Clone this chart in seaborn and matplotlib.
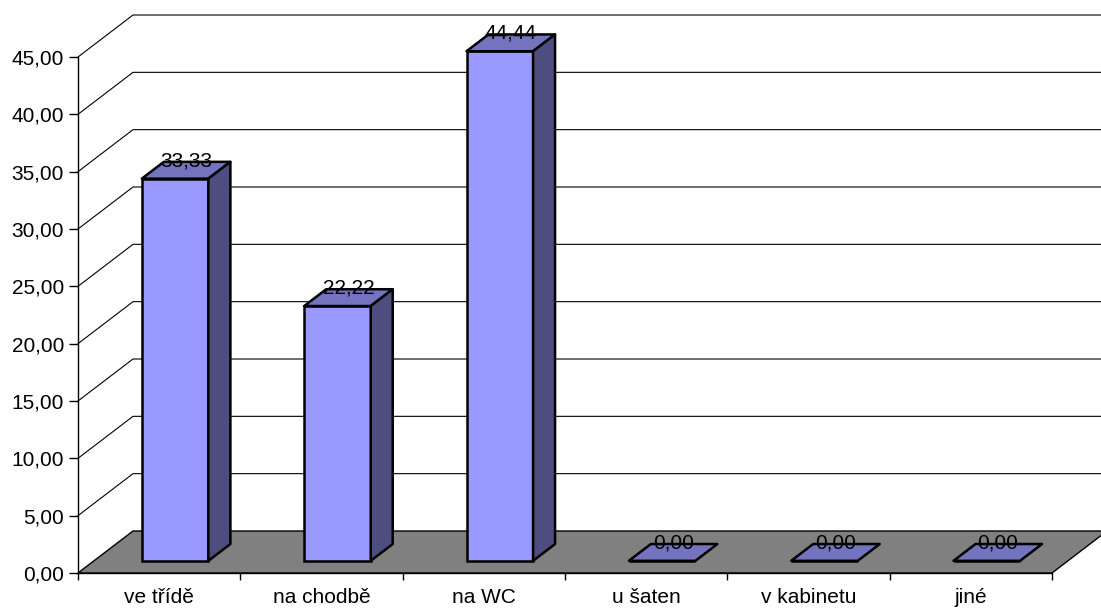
import matplotlib
matplotlib.use("Agg")
import matplotlib.pyplot as plt
import matplotlib.transforms as mtransforms
from matplotlib.patches import Polygon
import pandas as pd
import seaborn as sns

categories = ["ve třídě", "na chodbě", "na WC", "u šaten", "v kabinetu", "jiné"]
values = [33.33, 22.22, 44.44, 0.00, 0.00, 0.00]
y_ticks = [0, 5, 10, 15, 20, 25, 30, 35, 40, 45]

FRONT = "#9999ff"
TOP = "#7373bf"
SIDE = "#4d4d80"
FLOOR = "#808080"
FS = 15

sns.set_style("white")
plt.rcParams["font.family"] = ["Liberation Sans", "DejaVu Sans"]

W, H = 1101, 615
fig = plt.figure(figsize=(W / 100, H / 100), dpi=100)
ax = fig.add_axes([78 / W, (H - 573) / H, (1052 - 78) / W, (573 - 57) / H])

df = pd.DataFrame({"place": categories, "pct": values})
sns.barplot(data=df, x="place", y="pct", color=FRONT, width=0.41,
            edgecolor="black", linewidth=1.8, saturation=1, errorbar=None, ax=ax)
bars = list(ax.patches)
ax.set_xlim(-0.5, 5.5)
ax.set_ylim(0, 45)

# oblique depth of the 3D box, in data units
DX = 55 / (974 / 6)
DY = 42 / (516 / 45)
D0, D1 = 0.29, 0.69   # depth range occupied by the bars

# back wall grid lines and side wall diagonals
for v in y_ticks[1:]:
    ax.plot([-0.5, -0.5 + DX, 7.0], [v, v + DY, v + DY], color="black",
            lw=0.8, clip_on=False, zorder=1)

# floor
floor = Polygon([(-0.5, 0), (5.5, 0), (5.5 + DX, DY), (-0.5 + DX, DY)],
                closed=True, facecolor=FLOOR, edgecolor="black", lw=1,
                clip_on=False, zorder=2)
ax.add_patch(floor)
ax.plot([5.5 + DX, 7.0], [DY, DY], color="black", lw=0.8, clip_on=False, zorder=2)

# push the seaborn bars back into the box and add their top and side faces
shift = mtransforms.Affine2D().translate(D0 * DX, D0 * DY)
for bar, v in zip(bars, values):
    x0 = bar.get_x()
    x1 = x0 + bar.get_width()
    h = bar.get_height()
    bar.set_transform(shift + ax.transData)
    bar.set_zorder(4)
    bar.set_clip_on(False)
    top = Polygon([(x0 + D0 * DX, h + D0 * DY), (x1 + D0 * DX, h + D0 * DY),
                   (x1 + D1 * DX, h + D1 * DY), (x0 + D1 * DX, h + D1 * DY)],
                  closed=True, facecolor=TOP, edgecolor="black", lw=1.8,
                  joinstyle="round", clip_on=False, zorder=5)
    ax.add_patch(top)
    if h > 0:
        side = Polygon([(x1 + D0 * DX, D0 * DY), (x1 + D1 * DX, D1 * DY),
                        (x1 + D1 * DX, h + D1 * DY), (x1 + D0 * DX, h + D0 * DY)],
                       closed=True, facecolor=SIDE, edgecolor="black", lw=1.8,
                       joinstyle="round", clip_on=False, zorder=5)
        ax.add_patch(side)
    dm = (D0 + D1) / 2
    ax.annotate(f"{v:.2f}".replace(".", ","),
                xy=((x0 + x1) / 2 + dm * DX, h + dm * DY),
                xytext=(0, 7), textcoords="offset points",
                ha="center", va="center", fontsize=FS, color="black",
                zorder=6, annotation_clip=False)

# axes styling
for s in ("top", "right"):
    ax.spines[s].set_visible(False)
for s in ("left", "bottom"):
    ax.spines[s].set_color("black")
    ax.spines[s].set_linewidth(1.0)
    ax.spines[s].set_zorder(3)

ax.set_yticks(y_ticks)
ax.set_yticklabels([f"{t:.2f}".replace(".", ",") for t in y_ticks])
ax.tick_params(axis="y", left=True, length=6.5, width=1, pad=3.5,
               labelsize=FS, colors="black")
ax.set_xticks(range(len(categories)))
ax.set_xticklabels(categories)
ax.set_xticks([i - 0.5 for i in range(len(categories) + 1)], minor=True)
ax.tick_params(axis="x", which="major", length=0, pad=11, labelsize=FS,
               colors="black")
ax.tick_params(axis="x", which="minor", bottom=True, length=5, width=1,
               color="black")
ax.set_xlabel("")
ax.set_ylabel("")
ax.set_facecolor("none")

fig.savefig("out.png", dpi=100)
